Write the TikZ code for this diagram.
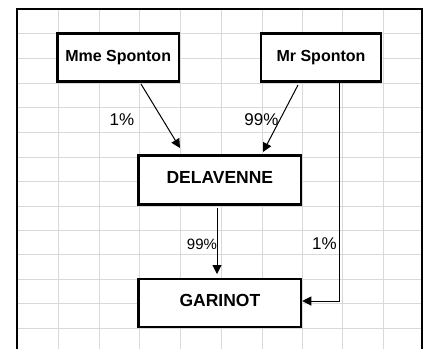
\documentclass[tikz,border=0pt]{standalone}
\usepackage{fontspec}
\setmainfont{Liberation Sans}
\usetikzlibrary{arrows.meta,calc}
\begin{document}
\begin{tikzpicture}[x=1pt,y=-1pt,
  grid/.style={draw=gridgrey,line width=1pt},
  frame/.style={draw=black,line width=2pt},
  entity/.style={draw=black,fill=white,line width=2.5pt,inner sep=0pt,align=center,
     text height=0.72em,text depth=0pt},
  small/.style={font=\fontsize{16}{19}\selectfont\bfseries},
  big/.style={font=\fontsize{17.5}{21}\selectfont\bfseries},
  pct/.style={inner sep=0pt,font=\fontsize{17}{20}\selectfont},
  pctsmall/.style={inner sep=0pt,font=\fontsize{15}{18}\selectfont},
  link/.style={draw=black,line width=1pt,-{Triangle[length=9pt,width=9pt]}}]
\definecolor{gridgrey}{HTML}{D9D9D9}
\useasboundingbox[fill=white] (0,0) rectangle (425,349);
% grid
\foreach \gx in {58,99,139,180,221,262,302,342,383}
  \draw[grid] (\gx,9) -- (\gx,349);
\foreach \gy in {33,58,83,107,132,157,181,206,230,254,279,303,328}
  \draw[grid] (17,\gy) -- (422,\gy);
% outer frame
\draw[frame] (17,349) -- (17,9) -- (422,9) -- (422,349);
% boxes
\node[entity,small,minimum width=121.7pt,minimum height=47.6pt] (mme) at (118.15,57.5) {Mme Sponton};
\node[entity,small,minimum width=120pt,minimum height=47.6pt] (mr) at (321,57.5) {Mr Sponton};
\node[entity,big,minimum width=162.3pt,minimum height=49pt] (del) at (219.85,180.2) {DELAVENNE};
\node[entity,big,minimum width=162.3pt,minimum height=48pt] (gar) at (219.85,303) {GARINOT};
% connectors
\draw[link] ($(mme.south)+(22.85,1.45)$) -- ($(del.north)+(-39.85,-6.45)$);
\draw[link] ($(mr.south)+(-23,2.45)$) -- ($(del.north)+(43.15,-2.45)$);
\draw[link] ($(del.south)+(-2.85,2)$) -- ($(gar.north)+(-2.85,-3.75)$);
\draw[link] ($(mr.south)+(18.5,0)$) |- ($(gar.east)+(0,-2)$);
% labels
\node[pct] (l1) at (122,120) {1\%};
\node[pct] (l2) at (261.5,120) {99\%};
\node[pctsmall] (l3) at (202,244.5) {99\%};
\node[pct] (l4) at (324.5,243.5) {1\%};
\end{tikzpicture}
\end{document}
